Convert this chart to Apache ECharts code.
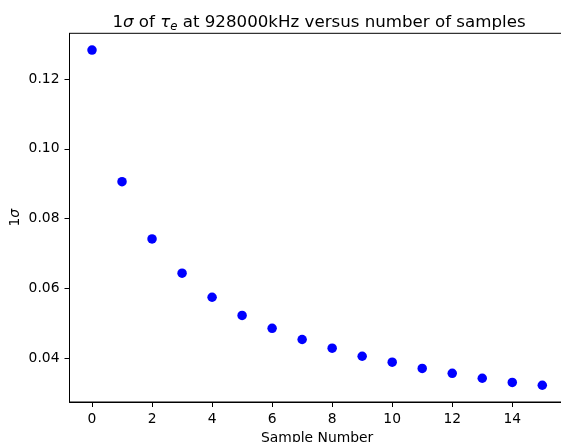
<!DOCTYPE html>
<html>
<head>
<meta charset="utf-8">
<script src="https://cdn.jsdelivr.net/npm/echarts@6/dist/echarts.min.js"></script>
<style>html,body{margin:0;padding:0;background:#fff;}#c{width:561px;height:442px;}</style>
</head>
<body>
<div id="c"></div>
<script>
const samples = [0, 1, 2, 3, 4, 5, 6, 7, 8, 9, 10, 11, 12, 13, 14, 15];
const sigma = [0.1283, 0.0906, 0.0742, 0.0644, 0.0575, 0.0523, 0.0486, 0.0454, 0.0429, 0.0406, 0.0389, 0.0371, 0.0357, 0.0343, 0.0331, 0.0323];
const xTicks = [0, 2, 4, 6, 8, 10, 12, 14];
const yTicks = [0.04, 0.06, 0.08, 0.10, 0.12];

const F = 'DejaVu Sans';
const chart = echarts.init(document.getElementById('c'), null, {renderer: 'canvas'});
const pts = samples.map((s, i) => [s, sigma[i]]);
const xmin = -0.75, xmax = 15.75;
const ymn = Math.min(...sigma), ymx = Math.max(...sigma), m = (ymx - ymn) * 0.05;

chart.setOption({
  animation: false,
  backgroundColor: '#fff',
  title: {
    text: '{n|1}{i|σ}{n| of }{i|τ}{s|e}{n| at 928000kHz versus number of samples}',
    left: 314, textAlign: 'center', top: 8,
    textStyle: {
      fontWeight: 'normal',
      rich: {
        n: {fontFamily: F, fontSize: 16.67, fontWeight: 'normal', color: '#000', lineHeight: 20},
        i: {fontFamily: F, fontSize: 16.67, fontWeight: 'normal', fontStyle: 'italic', color: '#000', lineHeight: 20},
        s: {fontFamily: F, fontSize: 11.7, fontWeight: 'normal', fontStyle: 'italic', color: '#000', lineHeight: 20, verticalAlign: 'bottom', padding: [8, 0, 0, 0]}
      }
    }
  },
  grid: {left: 69.5, top: 33.3, right: -3.8, bottom: 40, outerBoundsMode: 'none', containLabel: false, show: true, borderColor: '#000', borderWidth: 1, backgroundColor: 'transparent'},
  xAxis: {
    type: 'value', min: xmin, max: xmax,
    name: 'Sample Number', nameLocation: 'middle', nameGap: 29, nameMoveOverlap: false,
    nameTextStyle: {fontFamily: F, fontSize: 13.89, color: '#000'},
    axisLine: {show: true, onZero: false, lineStyle: {color: '#000', width: 1}},
    axisTick: {show: true, length: 5, lineStyle: {color: '#000'}, customValues: xTicks},
    axisLabel: {fontFamily: F, fontSize: 13.89, color: '#000', margin: 10, customValues: xTicks, formatter: v => String(v)},
    splitLine: {show: false}
  },
  yAxis: {
    type: 'value', min: ymn - m, max: ymx + m,
    name: '{n|1}{i|σ}', nameLocation: 'middle', nameGap: 47, nameMoveOverlap: false,
    nameTextStyle: {rich: {n: {fontFamily: F, fontSize: 13.89, color: '#000'}, i: {fontFamily: F, fontSize: 13.89, fontStyle: 'italic', color: '#000'}}},
    axisLine: {show: true, onZero: false, lineStyle: {color: '#000', width: 1}},
    axisTick: {show: true, length: 5, lineStyle: {color: '#000'}, customValues: yTicks},
    axisLabel: {fontFamily: F, fontSize: 13.89, color: '#000', margin: 10, customValues: yTicks, formatter: v => v.toFixed(2)},
    splitLine: {show: false}
  },
  series: [{
    type: 'scatter', data: pts, symbol: 'circle', symbolSize: 9.5,
    itemStyle: {color: '#0000ff', opacity: 1}
  }]
});
</script>
</body>
</html>
